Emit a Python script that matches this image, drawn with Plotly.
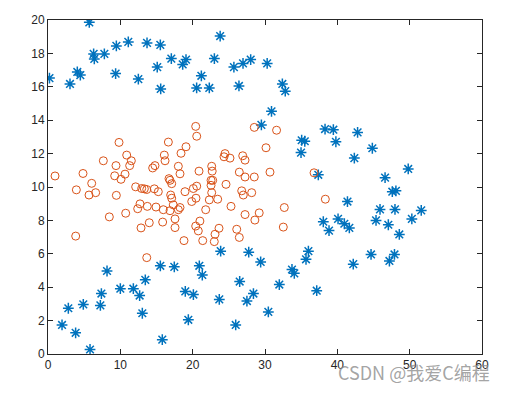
import plotly.graph_objects as go

# Class 1 (blue asterisks)
blue_x = [0.2, 3.04, 4.05, 4.47, 5.71, 6.31, 6.40, 7.79, 9.35, 9.45, 11.1, 12.49, 13.69, 15.1,
          15.53, 15.58, 17.05, 18.62, 19.08, 20.55, 21.2, 22.3, 23.0, 23.8, 25.7, 26.4, 26.96, 28.02,
          30.3, 32.4, 32.8, 30.9, 29.5, 38.3, 39.45, 42.8,
          35.07, 35.5, 39.8, 34.98, 44.84, 42.35, 37.37, 49.8, 46.6, 47.6, 48.1, 41.4, 45.9, 47.97,
          51.6, 50.3, 40.1, 38.06, 40.97, 41.66, 45.35, 47.05, 38.85, 48.57, 36.0, 35.67, 44.66, 47.9,
          47.2, 42.2, 33.73, 34.05, 31.98, 37.15, 30.46,
          1.94, 2.81, 3.82, 4.88, 5.81, 7.24, 7.38, 8.16, 10.0, 11.8, 12.67, 13.04, 13.45, 15.53,
          15.8, 17.46, 18.98, 19.4, 20.1, 20.92, 21.33, 23.68, 23.87, 25.95, 26.5, 27.5, 27.75, 28.4,
          29.4]
blue_y = [16.52, 16.17, 16.89, 16.70, 19.86, 17.97, 17.67, 17.97, 16.79, 18.45, 18.69, 16.46, 18.63, 17.18,
          18.51, 15.87, 17.69, 17.34, 17.63, 15.93, 16.66, 15.93, 17.69, 19.04, 17.18, 16.05, 17.40, 17.63,
          17.40, 16.17, 15.74, 14.53, 13.72, 13.47, 13.43, 13.27,
          12.80, 12.74, 12.71, 12.06, 12.32, 11.73, 10.73, 11.08, 10.56, 9.72, 9.77, 9.13, 8.66, 8.66,
          8.60, 8.09, 8.09, 7.92, 7.80, 7.55, 8.00, 7.74, 7.39, 7.16, 6.16, 5.67, 5.96, 5.96,
          5.57, 5.38, 5.06, 4.83, 4.16, 3.79, 2.52,
          1.74, 2.74, 1.27, 2.97, 0.27, 2.91, 3.62, 4.97, 3.91, 3.91, 3.50, 2.44, 4.44, 5.28,
          0.86, 5.22, 3.75, 2.05, 3.56, 5.28, 4.73, 3.27, 6.16, 1.74, 4.34, 3.17, 6.10, 3.62,
          5.51]

# Class 2 (orange circles)
orange_x = [0.97, 3.83, 3.92, 4.84, 5.67, 6.04, 6.59, 7.65, 8.48, 9.45, 9.22, 9.4, 9.82, 10.09,
            10.65, 10.74, 10.88, 11.29, 11.52, 12.12, 12.4, 12.72, 12.86, 12.95, 13.32, 13.65, 13.73,
            14.0, 14.47, 14.79, 14.7, 14.93, 15.25,
            20.42, 20.56, 16.64, 19.08, 18.39, 16.08, 16.18, 18.02, 18.25, 20.88, 22.63, 22.7, 24.47,
            24.33, 25.16, 26.92, 27.24, 26.45, 27.24, 28.52, 30.14, 28.52, 30.69, 16.73, 16.87, 17.1,
            16.96, 17.1, 18.94, 20.09, 20.56, 22.54, 22.77, 22.54, 22.63, 24.61, 26.78, 27.0, 28.16,
            15.94, 16.87, 17.32, 18.02, 18.25, 19.87, 20.46, 22.3, 23.46, 21.8, 25.3, 17.56, 15.85,
            27.24, 29.2, 28.6, 17.56, 20.42, 21.0, 20.78, 23.64, 23.09, 26.09, 26.45, 18.8, 21.39, 22.99,
            31.6, 36.78, 38.34, 32.67, 32.53, 13.65]
orange_y = [10.66, 7.06, 9.83, 10.81, 9.52, 10.22, 9.66, 11.57, 8.21, 9.50, 10.67, 11.28, 12.67, 10.46,
            10.77, 8.43, 11.91, 11.28, 11.57, 10.01, 8.70, 8.99, 7.55, 9.91, 9.89, 9.85, 8.84,
            7.86, 11.14, 11.28, 9.89, 8.80, 9.72,
            13.63, 13.04, 12.69, 12.41, 12.02, 11.91, 11.57, 11.24, 10.79, 10.95, 11.24, 10.95, 12.00,
            11.81, 11.73, 11.87, 11.61, 10.89, 10.60, 10.60, 12.35, 13.57, 10.89, 10.50, 10.40, 10.20,
            9.52, 9.33, 9.72, 9.91, 10.05, 10.40, 10.40, 10.10, 9.66, 10.16, 9.77, 9.52, 9.66,
            8.64, 8.58, 8.93, 8.64, 8.77, 9.13, 9.33, 9.23, 9.27, 8.64, 8.84, 8.09, 7.90,
            8.35, 8.45, 8.02, 7.57, 7.66, 7.96, 7.37, 7.53, 7.17, 7.47, 6.98, 6.79, 6.79, 6.73,
            13.40, 10.85, 9.27, 8.77, 7.60, 5.77]

x_ticks = [0, 10, 20, 30, 40, 50, 60]
y_ticks = [0, 2, 4, 6, 8, 10, 12, 14, 16, 18, 20]

fig = go.Figure()
fig.add_trace(go.Scatter(
    x=blue_x, y=blue_y, mode="markers",
    marker=dict(symbol="asterisk-open", size=9, color="#0072BD",
                line=dict(color="#0072BD", width=1.5)),
    showlegend=False))
fig.add_trace(go.Scatter(
    x=orange_x, y=orange_y, mode="markers",
    marker=dict(symbol="circle-open", size=8, color="#D95319",
                line=dict(color="#D95319", width=1)),
    showlegend=False))

axis_common = dict(
    showline=True, linecolor="#262626", linewidth=1, mirror="ticks",
    ticks="inside", ticklen=5, tickcolor="#262626", tickwidth=1,
    showgrid=False, zeroline=False, ticklabeloverflow="allow",
    tickfont=dict(family="Liberation Sans, Arial", size=12, color="#262626"),
)
fig.update_xaxes(range=[0, 60], tickvals=x_ticks, **axis_common)
fig.update_yaxes(range=[0, 20], tickvals=y_ticks, **axis_common)

fig.add_annotation(
    text="CSDN @我爱C编程", xref="paper", yref="paper",
    x=1.023, y=-0.053, xanchor="right", yanchor="middle", showarrow=False,
    font=dict(family="Noto Sans CJK SC", size=18, color="rgba(140,140,140,0.8)"))

fig.update_layout(
    width=500, height=385,
    margin=dict(l=40, r=26, t=5, b=39),
    paper_bgcolor="white", plot_bgcolor="white",
)

fig.write_html("out.html")
